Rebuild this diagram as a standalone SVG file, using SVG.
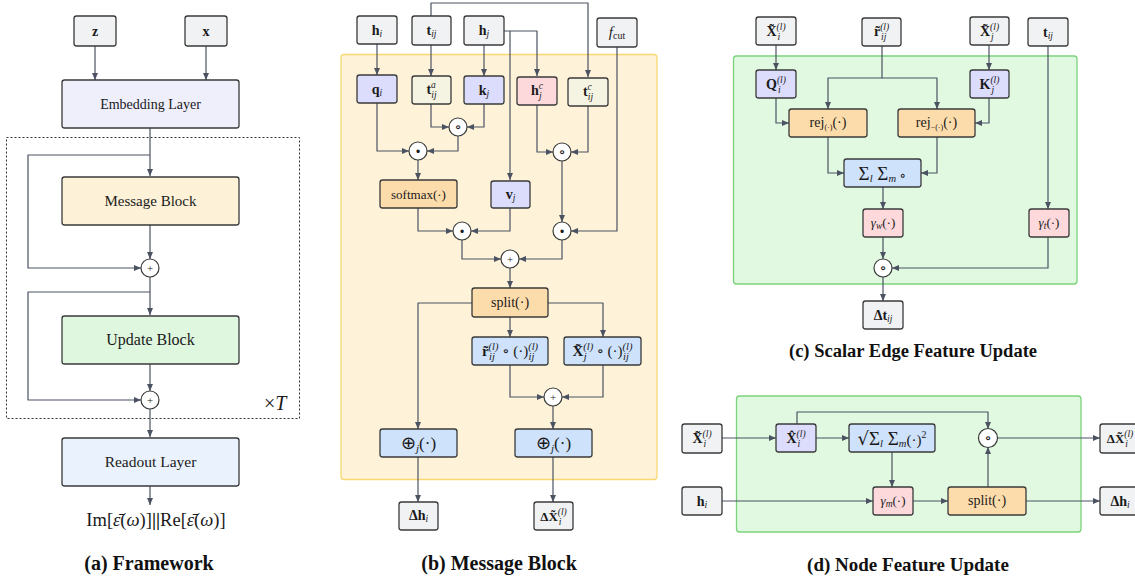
<svg xmlns="http://www.w3.org/2000/svg" width="1135" height="582" viewBox="0 0 1135 582">
  <style>
    text { font-family: "Liberation Serif", "DejaVu Serif", serif; fill: #1a1a1a; }
    .lbl { font-size: 16px; text-anchor: middle; }
    .m { font-size: 13px; text-anchor: middle; }
    .cap { font-size: 19px; font-weight: bold; text-anchor: middle; fill: #111; }
    .b { font-weight: bold; }
    .it { font-style: italic; }
    .sub { font-size: 9.5px; font-style: italic; }
    .sup { font-size: 9.5px; font-style: italic; }
    .op { font-size: 11px; text-anchor: middle; }
    .ring { font-size: 15px; text-anchor: middle; }
    .dot { font-size: 20px; font-weight: bold; text-anchor: middle; }
    .sym { font-family: "DejaVu Sans", sans-serif; }
    .box { stroke: #3a3a3a; stroke-width: 1.3; }
    .in { fill: #f1f2f4; }
    .lav { fill: #dcdcfc; }
    .beige { fill: #f5f4e3; }
    .pink { fill: #fdd9dc; }
    .orange { fill: #fddcab; }
    .blue { fill: #cfe2fc; }
    .emb { fill: #efeffc; }
    .msg { fill: #fdf2d8; }
    .upd { fill: #e0f7df; }
    .read { fill: #eaf2fd; }
    .circ { fill: #ffffff; stroke: #3a3a3a; stroke-width: 1.2; }
    .wire { fill: none; stroke: #4b5262; stroke-width: 1.2; stroke-linejoin: round; }
    .arr { marker-end: url(#head); }
  </style>
  <defs>
    <marker id="head" markerWidth="7" markerHeight="6" refX="7" refY="3" orient="auto" markerUnits="userSpaceOnUse">
      <path d="M0,0 L7,3 L0,6 z" fill="#4b5262"/>
    </marker>
  </defs>

  <!-- ===== Panel backgrounds ===== -->
  <rect x="6.5" y="137.5" width="293" height="281" fill="none" stroke="#333" stroke-width="1" stroke-dasharray="2,2"/>
  <rect x="341" y="54.5" width="316" height="425" rx="3" fill="#fef2d9" stroke="#f8d970" stroke-width="1.3"/>
  <rect x="733.5" y="56" width="343.5" height="228" rx="3" fill="#e1f9e0" stroke="#7ad37b" stroke-width="1.3"/>
  <rect x="736.5" y="396" width="344.5" height="136" rx="3" fill="#e1f9e0" stroke="#7ad37b" stroke-width="1.3"/>

  <!-- ===== Connectors ===== -->
  <g id="connectors">
    <!-- framework -->
    <path class="wire arr" d="M95,46 V80"/>
    <path class="wire arr" d="M206,46 V80"/>
    <path class="wire arr" d="M150,128 V176"/>
    <path class="wire arr" d="M150,155 H28 V268 H141"/>
    <path class="wire arr" d="M150,225 V259"/>
    <path class="wire arr" d="M150,277 V315"/>
    <path class="wire arr" d="M150,292 H28 V400 H141"/>
    <path class="wire arr" d="M150,364 V391"/>
    <path class="wire arr" d="M150,409 V437"/>
    <path class="wire arr" d="M150,486 V505"/>
    <!-- message block -->
    <path class="wire arr" d="M377,44 V75"/>
    <path class="wire arr" d="M431,45 V76"/>
    <path class="wire arr" d="M484,45 V76"/>
    <path class="wire arr" d="M431,16 V3 H588 V77"/>
    <path class="wire arr" d="M504,31 H537 V76"/>
    <path class="wire arr" d="M510,31 V180"/>
    <path class="wire arr" d="M617,47 V231 H571"/>
    <path class="wire arr" d="M377,103 V151 H409"/>
    <path class="wire arr" d="M431,104 V127 H449"/>
    <path class="wire arr" d="M484,104 V127 H467"/>
    <path class="wire arr" d="M458,136 V151 H427"/>
    <path class="wire arr" d="M418,160 V180"/>
    <path class="wire arr" d="M537,105 V152 H553"/>
    <path class="wire arr" d="M588,106 V152 H571"/>
    <path class="wire arr" d="M562,161 V222"/>
    <path class="wire arr" d="M418,208 V231 H453"/>
    <path class="wire arr" d="M510,208 V231 H471"/>
    <path class="wire arr" d="M462,240 V259 H501"/>
    <path class="wire arr" d="M562,240 V259 H519"/>
    <path class="wire arr" d="M510,268 V288"/>
    <path class="wire arr" d="M472,303 H418 V429"/>
    <path class="wire arr" d="M510,317 V337"/>
    <path class="wire arr" d="M548,303 H603 V337"/>
    <path class="wire arr" d="M510,365 V397 H544"/>
    <path class="wire arr" d="M603,365 V397 H562"/>
    <path class="wire arr" d="M553,406 V429"/>
    <path class="wire arr" d="M418,457 V502"/>
    <path class="wire arr" d="M553,457 V502"/>
    <!-- scalar edge feature update -->
    <path class="wire arr" d="M776,45 V70"/>
    <path class="wire arr" d="M989,45 V70"/>
    <path class="wire arr" d="M882,46 V78 H828 V109"/>
    <path class="wire arr" d="M882,78 H937 V109"/>
    <path class="wire arr" d="M776,98 V123 H789"/>
    <path class="wire arr" d="M989,98 V123 H975"/>
    <path class="wire arr" d="M828,137 V173 H844"/>
    <path class="wire arr" d="M937,137 V173 H921"/>
    <path class="wire arr" d="M883,187 V209"/>
    <path class="wire arr" d="M1048,46 V209"/>
    <path class="wire arr" d="M883,237 V259"/>
    <path class="wire arr" d="M1048,237 V268 H892"/>
    <path class="wire arr" d="M883,277 V301"/>
    <!-- node feature update -->
    <path class="wire arr" d="M722,438 H776"/>
    <path class="wire arr" d="M816,438 H849"/>
    <path class="wire arr" d="M797,424 V412 H988 V429"/>
    <path class="wire arr" d="M892,452 V487"/>
    <path class="wire arr" d="M722,501 H873"/>
    <path class="wire arr" d="M913,501 H948"/>
    <path class="wire arr" d="M988,487 V447"/>
    <path class="wire arr" d="M997,438 H1100"/>
    <path class="wire arr" d="M1026,501 H1100"/>
  </g>

  <!-- ===== (a) Framework ===== -->
  <g id="a-z"><rect class="box in" x="74" y="16" width="42" height="30" rx="2.5"/><text class="m b" x="95" y="36" style="font-size:14px">z</text></g>
  <g id="a-x"><rect class="box in" x="185" y="16" width="42" height="30" rx="2.5"/><text class="m b" x="206" y="36" style="font-size:14px">x</text></g>
  <g id="a-embedding"><rect class="box emb" x="62" y="80" width="177" height="48" rx="2.5"/><text class="lbl" x="150.5" y="109" style="font-size:14px">Embedding Layer</text></g>
  <g id="a-message"><rect class="box msg" x="62" y="177" width="177" height="48" rx="2.5"/><text class="lbl" x="150.5" y="206" style="font-size:15px">Message Block</text></g>
  <g id="a-plus1"><circle class="circ" cx="150" cy="268" r="9"/><text class="op" x="150" y="272">+</text></g>
  <g id="a-update"><rect class="box upd" x="62" y="316" width="177" height="48" rx="2.5"/><text class="lbl" x="150.5" y="345">Update Block</text></g>
  <g id="a-plus2"><circle class="circ" cx="150" cy="400" r="9"/><text class="op" x="150" y="404">+</text></g>
  <g id="a-times"><text x="264" y="410" font-size="20">×<tspan class="it">T</tspan></text></g>
  <g id="a-readout"><rect class="box read" x="62" y="438" width="177" height="48" rx="2.5"/><text class="lbl" x="150.5" y="467" style="font-size:15.5px">Readout Layer</text></g>
  <g id="a-output"><text x="156" y="526" font-size="18.5" text-anchor="middle">Im[<tspan class="it">ε̄</tspan>(<tspan class="it">ω</tspan>)]<tspan class="b">||</tspan>Re[<tspan class="it">ε̄</tspan>(<tspan class="it">ω</tspan>)]</text></g>
  <text class="cap" x="149" y="570" style="font-size:20px">(a) Framework</text>

  <!-- ===== (b) Message Block ===== -->
  <g id="b-hi"><rect class="box in" x="357" y="16" width="40" height="28" rx="2.5"/><text class="m" x="377" y="35"><tspan class="b" font-size="14">h</tspan><tspan class="sub" dy="2">i</tspan></text></g>
  <g id="b-tij"><rect class="box in" x="412" y="16" width="39" height="29" rx="2.5"/><text class="m" x="431.5" y="35"><tspan class="b" font-size="14">t</tspan><tspan class="sub" dy="2">ij</tspan></text></g>
  <g id="b-hj"><rect class="box in" x="464" y="16" width="40" height="29" rx="2.5"/><text class="m" x="484" y="35"><tspan class="b" font-size="14">h</tspan><tspan class="sub" dy="2">j</tspan></text></g>
  <g id="b-fcut"><rect class="box in" x="597" y="18" width="40" height="29" rx="2.5"/><text class="m" x="617" y="37"><tspan class="it" font-size="15">f</tspan><tspan font-size="10" dy="2">cut</tspan></text></g>
  <g id="b-qi"><rect class="box lav" x="357" y="75" width="40" height="28" rx="2.5"/><text class="m" x="377" y="94"><tspan class="b" font-size="14">q</tspan><tspan class="sub" dy="2">i</tspan></text></g>
  <g id="b-ta"><rect class="box beige" x="412" y="76" width="39" height="28" rx="2.5"/><text class="m" x="431.5" y="94"><tspan class="b" font-size="14">t</tspan><tspan class="sup" dy="-6">a</tspan><tspan class="sub" dx="-4.5" dy="10">ij</tspan></text></g>
  <g id="b-kj"><rect class="box lav" x="464" y="76" width="40" height="28" rx="2.5"/><text class="m" x="484" y="95"><tspan class="b" font-size="14">k</tspan><tspan class="sub" dy="2">j</tspan></text></g>
  <g id="b-hc"><rect class="box pink" x="517" y="77" width="40" height="28" rx="2.5"/><text class="m" x="537" y="95"><tspan class="b" font-size="14">h</tspan><tspan class="sup" dy="-6">c</tspan><tspan class="sub" dx="-4" dy="10">j</tspan></text></g>
  <g id="b-tc"><rect class="box beige" x="568" y="78" width="40" height="28" rx="2.5"/><text class="m" x="588" y="96"><tspan class="b" font-size="14">t</tspan><tspan class="sup" dy="-6">c</tspan><tspan class="sub" dx="-4" dy="10">ij</tspan></text></g>
  <g id="b-had1"><circle class="circ" cx="458" cy="127" r="9"/><text class="ring" x="458" y="131.5">∘</text></g>
  <g id="b-dot1"><circle class="circ" cx="418" cy="151" r="9"/><text class="dot" x="418" y="157.5">·</text></g>
  <g id="b-had2"><circle class="circ" cx="562" cy="152" r="9"/><text class="ring" x="562" y="156.5">∘</text></g>
  <g id="b-softmax"><rect class="box orange" x="380" y="180" width="77" height="28" rx="2.5"/><text class="m" x="418.5" y="199">softmax(·)</text></g>
  <g id="b-vj"><rect class="box lav" x="491" y="181" width="39" height="27" rx="2.5"/><text class="m" x="510.5" y="199"><tspan class="b" font-size="14">v</tspan><tspan class="sub" dy="2">j</tspan></text></g>
  <g id="b-dot2"><circle class="circ" cx="462" cy="231" r="9"/><text class="dot" x="462" y="237.5">·</text></g>
  <g id="b-dot3"><circle class="circ" cx="562" cy="231" r="9"/><text class="dot" x="562" y="237.5">·</text></g>
  <g id="b-plus"><circle class="circ" cx="510" cy="259" r="9"/><text class="op" x="510" y="263">+</text></g>
  <g id="b-split"><rect class="box orange" x="472" y="288" width="76" height="29" rx="2.5"/><text class="m" x="510" y="307" style="font-size:14px">split(·)</text></g>
  <g id="b-r"><rect class="box blue" x="472" y="337" width="76" height="28" rx="2.5"/><text class="m" x="510" y="356" style="font-size:15px"><tspan class="b">r̃</tspan><tspan class="sup" style="font-size:10.5px" dy="-6">(l)</tspan><tspan class="sub" style="font-size:10.5px" dx="-9.5" dy="10">ij</tspan><tspan dx="3.5" dy="-4"> ∘ (·)</tspan><tspan class="sup" style="font-size:10.5px" dy="-6">(l)</tspan><tspan class="sub" style="font-size:10.5px" dx="-9.5" dy="10">ij</tspan></text></g>
  <g id="b-X"><rect class="box blue" x="564" y="337" width="77" height="28" rx="2.5"/><text class="m" x="602.5" y="356" style="font-size:15px"><tspan class="b">X̃</tspan><tspan class="sup" style="font-size:10.5px" dy="-6">(l)</tspan><tspan class="sub" style="font-size:10.5px" dx="-9.5" dy="10">j</tspan><tspan dx="6" dy="-4"> ∘ (·)</tspan><tspan class="sup" style="font-size:10.5px" dy="-6">(l)</tspan><tspan class="sub" style="font-size:10.5px" dx="-9.5" dy="10">ij</tspan></text></g>
  <g id="b-plus2"><circle class="circ" cx="553" cy="397" r="9"/><text class="op" x="553" y="401">+</text></g>
  <g id="b-agg1"><rect class="box blue" x="380" y="429" width="77" height="28" rx="2.5"/><text class="m" x="418.5" y="449" style="font-size:17px"><tspan class="sym" font-size="18">⊕</tspan><tspan class="sub" style="font-size:11px" dy="3">j</tspan><tspan dy="-3">(·)</tspan></text></g>
  <g id="b-agg2"><rect class="box blue" x="515" y="429" width="77" height="28" rx="2.5"/><text class="m" x="553.5" y="449" style="font-size:17px"><tspan class="sym" font-size="18">⊕</tspan><tspan class="sub" style="font-size:11px" dy="3">j</tspan><tspan dy="-3">(·)</tspan></text></g>
  <g id="b-dh"><rect class="box in" x="399" y="502" width="39" height="28" rx="2.5"/><text class="m" x="418.5" y="520"><tspan class="b" font-size="14">Δh</tspan><tspan class="sub" dy="2">i</tspan></text></g>
  <g id="b-dX"><rect class="box in" x="534" y="502" width="39" height="28" rx="2.5"/><text class="m" x="553.5" y="521"><tspan class="b" font-size="13">ΔX̃</tspan><tspan class="sup" dy="-6">(l)</tspan><tspan class="sub" dx="-8" dy="10">i</tspan></text></g>
  <text class="cap" x="499" y="570" style="font-size:20px">(b) Message Block</text>

  <!-- ===== (c) Scalar Edge Feature Update ===== -->
  <g id="c-Xi"><rect class="box in" x="756" y="17" width="40" height="28" rx="2.5"/><text class="m" x="776" y="36"><tspan class="b" font-size="14">X̃</tspan><tspan class="sup" dy="-6">(l)</tspan><tspan class="sub" dx="-8" dy="10">i</tspan></text></g>
  <g id="c-r"><rect class="box in" x="862" y="18" width="39" height="28" rx="2.5"/><text class="m" x="881.5" y="36"><tspan class="b" font-size="14">r̃</tspan><tspan class="sup" dy="-6">(l)</tspan><tspan class="sub" dx="-8" dy="10">ij</tspan></text></g>
  <g id="c-Xj"><rect class="box in" x="970" y="17" width="39" height="28" rx="2.5"/><text class="m" x="989.5" y="36"><tspan class="b" font-size="14">X̃</tspan><tspan class="sup" dy="-6">(l)</tspan><tspan class="sub" dx="-8" dy="10">j</tspan></text></g>
  <g id="c-tij"><rect class="box in" x="1028" y="18" width="40" height="28" rx="2.5"/><text class="m" x="1048" y="37"><tspan class="b" font-size="14">t</tspan><tspan class="sub" dy="2">ij</tspan></text></g>
  <g id="c-Q"><rect class="box lav" x="756" y="70" width="40" height="28" rx="2.5"/><text class="m" x="776" y="89"><tspan class="b" font-size="14">Q</tspan><tspan class="sup" dy="-6">(l)</tspan><tspan class="sub" dx="-8" dy="10">i</tspan></text></g>
  <g id="c-K"><rect class="box lav" x="970" y="70" width="39" height="28" rx="2.5"/><text class="m" x="989.5" y="89"><tspan class="b" font-size="14">K</tspan><tspan class="sup" dy="-6">(l)</tspan><tspan class="sub" dx="-8" dy="10">j</tspan></text></g>
  <g id="c-rej1"><rect class="box orange" x="789" y="109" width="78" height="28" rx="2.5"/><text class="m" x="828" y="127" style="font-size:14px">rej<tspan font-size="8" dy="3">(·)</tspan><tspan dy="-3">(·)</tspan></text></g>
  <g id="c-rej2"><rect class="box orange" x="898" y="109" width="77" height="28" rx="2.5"/><text class="m" x="936.5" y="127" style="font-size:14px">rej<tspan font-size="8" dy="3">−(·)</tspan><tspan dy="-3">(·)</tspan></text></g>
  <g id="c-sum"><rect class="box blue" x="844" y="159" width="77" height="28" rx="2.5"/><text class="m" x="882.5" y="179.5" style="font-size:19px">Σ<tspan class="sub" style="font-size:10.5px" dy="2">l</tspan><tspan dy="-2"> Σ</tspan><tspan class="sub" style="font-size:10.5px" dy="2">m</tspan><tspan dy="-2" font-size="14"> ∘</tspan></text></g>
  <g id="c-gw"><rect class="box pink" x="863" y="209" width="40" height="28" rx="2.5"/><text class="m" x="883" y="227"><tspan class="it">γ</tspan><tspan class="sub" dy="2">w</tspan><tspan dy="-2">(·)</tspan></text></g>
  <g id="c-gt"><rect class="box pink" x="1029" y="209" width="40" height="28" rx="2.5"/><text class="m" x="1049" y="227"><tspan class="it">γ</tspan><tspan class="sub" dy="2">t</tspan><tspan dy="-2">(·)</tspan></text></g>
  <g id="c-had"><circle class="circ" cx="883" cy="268" r="9"/><text class="ring" x="883" y="272.5">∘</text></g>
  <g id="c-dt"><rect class="box in" x="863" y="301" width="40" height="28" rx="2.5"/><text class="m" x="883" y="320"><tspan class="b" font-size="14">Δt</tspan><tspan class="sub" dy="2">ij</tspan></text></g>
  <text class="cap" x="913" y="357" style="font-size:18.5px">(c) Scalar Edge Feature Update</text>

  <!-- ===== (d) Node Feature Update ===== -->
  <g id="d-Xi"><rect class="box in" x="682" y="424" width="40" height="29" rx="2.5"/><text class="m" x="702" y="443"><tspan class="b" font-size="14">X̃</tspan><tspan class="sup" dy="-6">(l)</tspan><tspan class="sub" dx="-8" dy="10">i</tspan></text></g>
  <g id="d-hi"><rect class="box in" x="682" y="487" width="40" height="28" rx="2.5"/><text class="m" x="702" y="506"><tspan class="b" font-size="14">h</tspan><tspan class="sub" dy="2">i</tspan></text></g>
  <g id="d-Xhat"><rect class="box lav" x="776" y="424" width="40" height="28" rx="2.5"/><text class="m" x="796" y="443"><tspan class="b" font-size="14">X̂</tspan><tspan class="sup" dy="-6">(l)</tspan><tspan class="sub" dx="-8" dy="10">i</tspan></text></g>
  <g id="d-norm"><rect class="box blue" x="849" y="424" width="86" height="28" rx="2.5"/><text class="m" x="892" y="445" style="font-size:19px"><tspan class="sym" font-size="18">√</tspan>Σ<tspan class="sub" style="font-size:10.5px" dy="2">l</tspan><tspan dy="-2"> Σ</tspan><tspan class="sub" style="font-size:10.5px" dy="2">m</tspan><tspan font-size="15" dy="-2">(·)</tspan><tspan font-size="10" dy="-7">2</tspan></text></g>
  <g id="d-had"><circle class="circ" cx="988" cy="438" r="9.5"/><text class="ring" x="988" y="442.5">∘</text></g>
  <g id="d-gm"><rect class="box pink" x="873" y="487" width="40" height="28" rx="2.5"/><text class="m" x="893" y="505"><tspan class="it">γ</tspan><tspan class="sub" dy="2">m</tspan><tspan dy="-2">(·)</tspan></text></g>
  <g id="d-split"><rect class="box orange" x="948" y="487" width="78" height="28" rx="2.5"/><text class="m" x="987" y="505" style="font-size:14px">split(·)</text></g>
  <g id="d-dX"><rect class="box in" x="1100" y="424" width="40" height="29" rx="2.5"/><text class="m" x="1120" y="443"><tspan class="b" font-size="13">ΔX̃</tspan><tspan class="sup" dy="-6">(l)</tspan><tspan class="sub" dx="-8" dy="10">i</tspan></text></g>
  <g id="d-dh"><rect class="box in" x="1100" y="487" width="40" height="28" rx="2.5"/><text class="m" x="1120" y="506"><tspan class="b" font-size="14">Δh</tspan><tspan class="sub" dy="2">i</tspan></text></g>
  <text class="cap" x="908" y="571">(d) Node Feature Update</text>
</svg>
